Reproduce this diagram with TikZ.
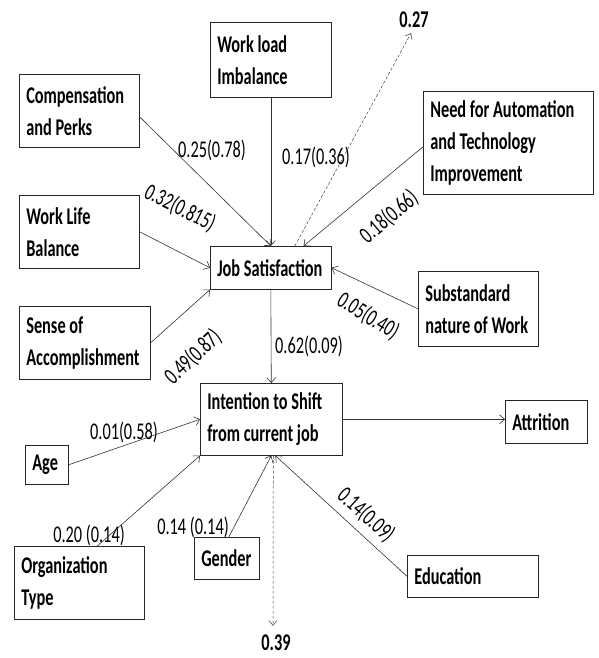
\documentclass[tikz,border=0pt]{standalone}
\usepackage{fontspec}
\setmainfont[FakeStretch=0.68]{Carlito}
\usepackage{tikz}
\usetikzlibrary{positioning, arrows.meta}
\newcommand{\errVal}[1]{\textbf{#1}}

\begin{document}
\begin{tikzpicture}[x=1pt, y=-1pt,
			factor/.style={draw=black!85, line width=0.6pt, anchor=north west, align=flush left, inner xsep=7pt, inner ysep=0pt, font=\fontsize{24}{32}\selectfont\bfseries},
			weight/.style={inner sep=1pt, font=\fontsize{24}{24}\selectfont},
			link/.style={-{Straight Barb[length=5pt, width=9pt]}, line width=0.6pt, draw=black!80},
			resid/.style={-{Straight Barb[length=5pt, width=8pt]}, dashed, dash pattern=on 3pt off 2pt, line width=0.5pt, draw=black!75},
		]
		\useasboundingbox (0,0) rectangle (598,658);

		\node[factor, text width=106pt, minimum height=73pt]  (comp)  at (19,74)   {Compensation\\and Perks};
		\node[factor, text width=107pt, minimum height=75pt]  (work)  at (210,22)  {Work load\\Imbalance};
		\node[factor, text width=156pt, minimum height=103pt] (auto)  at (423,91)  {Need for Automation\\and Technology\\Improvement};
		\node[factor, text width=106pt, minimum height=73pt]  (wlb)   at (19,195)  {Work Life\\Balance};
		\node[factor, text width=107pt, minimum height=43pt]  (js)    at (210,246) {Job Satisfaction};
		\node[factor, text width=117pt, minimum height=73pt]  (sense) at (19,306)  {Sense of\\Accomplishment};
		\node[factor, text width=106pt, minimum height=75pt]  (sub)   at (418,271) {Substandard\\nature of Work};
		\node[factor, text width=128pt, minimum height=72pt]  (int)   at (200,383) {Intention to Shift\\from current job};
		\node[factor, text width=68pt, minimum height=43pt]   (attr)  at (505,400) {Attrition};
		\node[factor, text width=29pt, minimum height=39pt]   (age)   at (25,445)  {Age};
		\node[factor, text width=116pt, minimum height=73pt]  (org)   at (14,546)  {Organization\\Type};
		\node[factor, text width=51pt, minimum height=42pt]   (gen)   at (194,537) {Gender};
		\node[factor, text width=117pt, minimum height=42pt]  (edu)   at (407,555) {Education};

		\node[weight] (v27) at (414,20)  {\errVal{0.27}};
		\node[weight] (v39) at (276,643) {\errVal{0.39}};

		\node[weight]             (w1)  at (212,150) {0.25(0.78)};
		\node[weight]             (w2)  at (316,157) {0.17(0.36)};
		\node[weight, rotate=-27] (w3)  at (180,208) {0.32(0.815)};
		\node[weight, rotate=43]  (w4)  at (193,357) {0.49(0.87)};
		\node[weight, rotate=40]  (w5)  at (389,217) {0.18(0.66)};
		\node[weight, rotate=-32] (w6)  at (368,316) {0.05(0.40)};
		\node[weight]             (w7)  at (309,346) {0.62(0.09)};
		\node[weight]             (w8)  at (124,432) {0.01(0.58)};
		\node[weight]             (w9)  at (89,535)  {0.20 (0.14)};
		\node[weight]             (w10) at (193,527) {0.14 (0.14)};
		\node[weight, rotate=-42] (w11) at (366,515) {0.14(0.09)};

		\draw[link] ([yshift=-6pt]comp.east) -- (js.north);
		\draw[link] (work.south) -- (js.north);
		\draw[link] ([yshift=-4pt]auto.west) -- ([xshift=-28pt]js.north east);
		\draw[link] (wlb.east) -- (js.west);
		\draw[link] (sense.east) -- (js.south west);
		\draw[link] (sub.west) -- (js.east);
		\draw[resid] ([xshift=24pt]js.north) -- ([xshift=-3pt,yshift=-4pt]v27.south);

		\draw[link] (js.south) -- (int.north);
		\draw[link] (int.east) -- (int.east -| attr.west);
		\draw[link] (age.east) -- (int.west);
		\draw[link] ([xshift=18pt]org.north) -- (int.south west);
		\draw[link] ([xshift=2pt]gen.north) -- (int.south);
		\draw[link] (edu.west) -- ([xshift=4pt]int.south);
		\draw[resid] ([xshift=2pt]int.south) -- ([xshift=-3pt,yshift=8pt]v39.north);

\end{tikzpicture}
\end{document}
